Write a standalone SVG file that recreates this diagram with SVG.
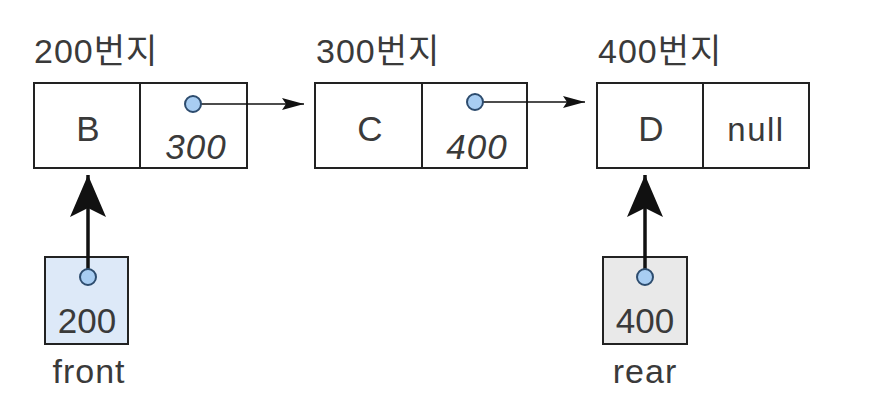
<svg xmlns="http://www.w3.org/2000/svg" width="873" height="413" viewBox="0 0 873 413">
<style>
.box{fill:#fff;stroke:#222;stroke-width:2}
.t{font-family:"Liberation Sans","Noto Sans CJK KR",sans-serif;fill:#3a3a3a;text-anchor:middle}
.lbl{font-size:34px;text-anchor:start;letter-spacing:1px}
.big{font-size:35px}
.it{font-style:italic}
.dot{fill:#a8cdf2;stroke:#2d4c6e;stroke-width:2}
.link{stroke:#111;stroke-width:1.6;fill:none}
.ptr{stroke:#111;stroke-width:3.5;fill:none}
</style>
<defs>
<marker id="sa" viewBox="0 0 22 12" refX="22" refY="6" markerWidth="22" markerHeight="12" markerUnits="userSpaceOnUse" orient="auto">
<path d="M0,0 L22,6 L0,12 L4,6 Z" fill="#111"/>
</marker>
<marker id="ba" viewBox="0 0 42 36" refX="42" refY="18" markerWidth="42" markerHeight="36" markerUnits="userSpaceOnUse" orient="auto">
<path d="M0,0 L42,18 L0,36 L9,18 Z" fill="#111"/>
</marker>
</defs>

<g id="node-200">
<text class="t lbl" x="34" y="63">200번지</text>
<rect class="box" x="34" y="83" width="106" height="85"/>
<rect class="box" x="140" y="83" width="107" height="85"/>
<text class="t big" x="88" y="141">B</text>
<text class="t big it" x="196" y="159" letter-spacing="1">300</text>
</g>

<g id="node-300">
<text class="t lbl" x="316" y="63">300번지</text>
<rect class="box" x="315" y="83" width="107" height="85"/>
<rect class="box" x="422" y="83" width="105" height="85"/>
<text class="t big" x="370" y="141">C</text>
<text class="t big it" x="477" y="159" letter-spacing="1">400</text>
</g>

<g id="node-400">
<text class="t lbl" x="598" y="63">400번지</text>
<rect class="box" x="597" y="83" width="106" height="85"/>
<rect class="box" x="703" y="83" width="106" height="85"/>
<text class="t big" x="651" y="141">D</text>
<text class="t" style="font-size:33px" x="756" y="141" letter-spacing="1.5">null</text>
</g>

<g id="front">
<rect x="45" y="257" width="83" height="87" fill="#dde9f8" stroke="#222" stroke-width="2"/>
<text class="t big" x="87" y="333">200</text>
<text class="t" style="font-size:34px" x="89" y="383" letter-spacing="1">front</text>
</g>

<g id="rear">
<rect x="603" y="257" width="84" height="87" fill="#e9e9e9" stroke="#222" stroke-width="2"/>
<text class="t big" x="645" y="333">400</text>
<text class="t" style="font-size:34px" x="645" y="383" letter-spacing="1">rear</text>
</g>

<g id="connectors">
<line class="link" x1="193" y1="104" x2="304" y2="104" marker-end="url(#sa)"/>
<line class="link" x1="475" y1="102" x2="585" y2="102" marker-end="url(#sa)"/>
<line class="ptr" x1="88" y1="277" x2="88" y2="175" marker-end="url(#ba)"/>
<line class="ptr" x1="645" y1="277" x2="645" y2="175" marker-end="url(#ba)"/>
<circle class="dot" cx="193" cy="104" r="8"/>
<circle class="dot" cx="475" cy="102" r="8"/>
<circle class="dot" cx="88" cy="277" r="8"/>
<circle class="dot" cx="645" cy="277" r="8"/>
</g>
</svg>
